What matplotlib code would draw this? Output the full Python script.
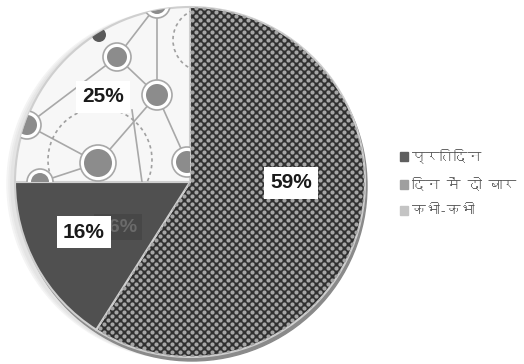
import matplotlib
matplotlib.use("Agg")
import matplotlib.pyplot as plt
from matplotlib import font_manager
from matplotlib.ft2font import FT2Font
from matplotlib.patches import Circle, Patch
import numpy as np

# share of respondents
labels = ["प्रतिदिन", "दिन में दो बार", "कभी-कभी"]
shares = [59, 16, 25]
pct_text = ["59%", "16%", "25%"]
legend_colors = ["#5f5f5f", "#9f9f9f", "#c4c4c4"]


def devanagari_font():
    # pick any installed font that has Devanagari glyphs
    for f in font_manager.fontManager.ttflist:
        try:
            if 0x0915 in FT2Font(f.fname).get_charmap():
                return f.name
        except Exception:
            pass
    return "DejaVu Sans"


hindi = devanagari_font()

W, H = 524, 364
fig = plt.figure(figsize=(W / 100, H / 100), dpi=100)
ax = fig.add_axes([0, 0, 1, 1])

cx, cy, r = 190, H - 182, 175

# soft shadow on the left and darker rim under the pie
for k, col in enumerate(["#f4f4f4", "#ececec", "#e4e4e4"]):
    ax.add_patch(Circle((cx - 8 + 2 * k, cy - 2), r, color=col, zorder=-1))
ax.add_patch(Circle((cx + 2, cy - 4), r, color="#8a8a8a", zorder=0))

wedges, _ = ax.pie(shares, startangle=90, counterclock=False,
                   center=(cx, cy), radius=r,
                   colors=["#303030", "#505050", "#f7f7f7"],
                   wedgeprops=dict(edgecolor="#cfcfcf", linewidth=1.5))
for w in wedges:
    w.set_zorder(1)

# dotted screen texture on the big slice
gx, gy = np.meshgrid(np.arange(0, W, 4.0), np.arange(0, H, 4.0))
ix, iy = np.meshgrid(np.arange(gx.shape[1]), np.arange(gx.shape[0]))
keep = (ix + iy) % 2 == 0
dots = ax.scatter(gx[keep], gy[keep], s=9, color="#a6a6a6", lw=0, zorder=2)
dots.set_clip_path(wedges[0])

# network texture on the 25% slice (image coords, y flipped below)
nodes = [(117, 57, 10), (157, 95, 11), (98, 163, 14), (27, 125, 10),
         (187, 162, 11), (157, 5, 9), (40, 182, 9)]
links = [(5, 0), (0, 1), (1, 2), (2, 3), (1, 4), (5, 1),
         (0, 3), (2, 6)]
deco = []
for a, b in links:
    (x1, y1, _), (x2, y2, _) = nodes[a], nodes[b]
    deco += ax.plot([x1, x2], [H - y1, H - y2], color="#a8a8a8", lw=1.2,
                    zorder=2)
deco += ax.plot([132, 142], [H - 110, H - 182], color="#a8a8a8", lw=1.2,
                zorder=2)
deco += ax.plot([60, 20], [H - 60, H - 110], color="#a8a8a8", lw=1.2,
                zorder=2)
for (x0, y0, rr) in [(100, 160, 52), (205, 40, 32)]:
    c = Circle((x0, H - y0), rr, fill=False, ec="#a0a0a0", lw=1.2,
               ls=(0, (2, 2)), zorder=2)
    ax.add_patch(c)
    deco.append(c)
for (x0, y0, rr) in nodes:
    for rad, kw in [(rr + 4, dict(fc="white", ec="#a8a8a8", lw=1.2)),
                    (rr, dict(fc="#8c8c8c", ec="none"))]:
        c = Circle((x0, H - y0), rad, zorder=3, **kw)
        ax.add_patch(c)
        deco.append(c)
c = Circle((99, H - 35), 7, fc="#5a5a5a", ec="none", zorder=3)
ax.add_patch(c)
deco.append(c)
for d in deco:
    d.set_clip_path(wedges[2])

# faint ghost of the 16% label
ax.text(118, H - 227, pct_text[1], ha="center", va="center",
        fontsize=14, fontweight="bold", family="Liberation Sans",
        color="#6a6a6a", zorder=4,
        bbox=dict(boxstyle="square,pad=0.25", fc="#474747", ec="none"))

label_pos = [(291, 183), (84, 232), (103, 97)]
for txt, (x, y) in zip(pct_text, label_pos):
    ax.text(x, H - y, txt, ha="center", va="center", fontsize=15,
            fontweight="bold", family="Liberation Sans", color="#1a1a1a",
            zorder=5,
            bbox=dict(boxstyle="square,pad=0.3", fc="white", ec="none"))

handles = [Patch(color=c) for c in legend_colors]
leg = ax.legend(handles, labels, loc="upper left",
                bbox_to_anchor=(394 / W, 1 - 143 / H), frameon=False,
                handlelength=0.6, handleheight=0.6, handletextpad=0.3,
                labelspacing=1.0, borderaxespad=0,
                prop={"family": [hindi, "DejaVu Sans"], "size": 10})
for t in leg.get_texts():
    t.set_color("#5a5a5a")

ax.set_xlim(0, W)
ax.set_ylim(0, H)
ax.set_aspect("equal")
ax.axis("off")

fig.savefig("out.png", dpi=100, facecolor="white")
